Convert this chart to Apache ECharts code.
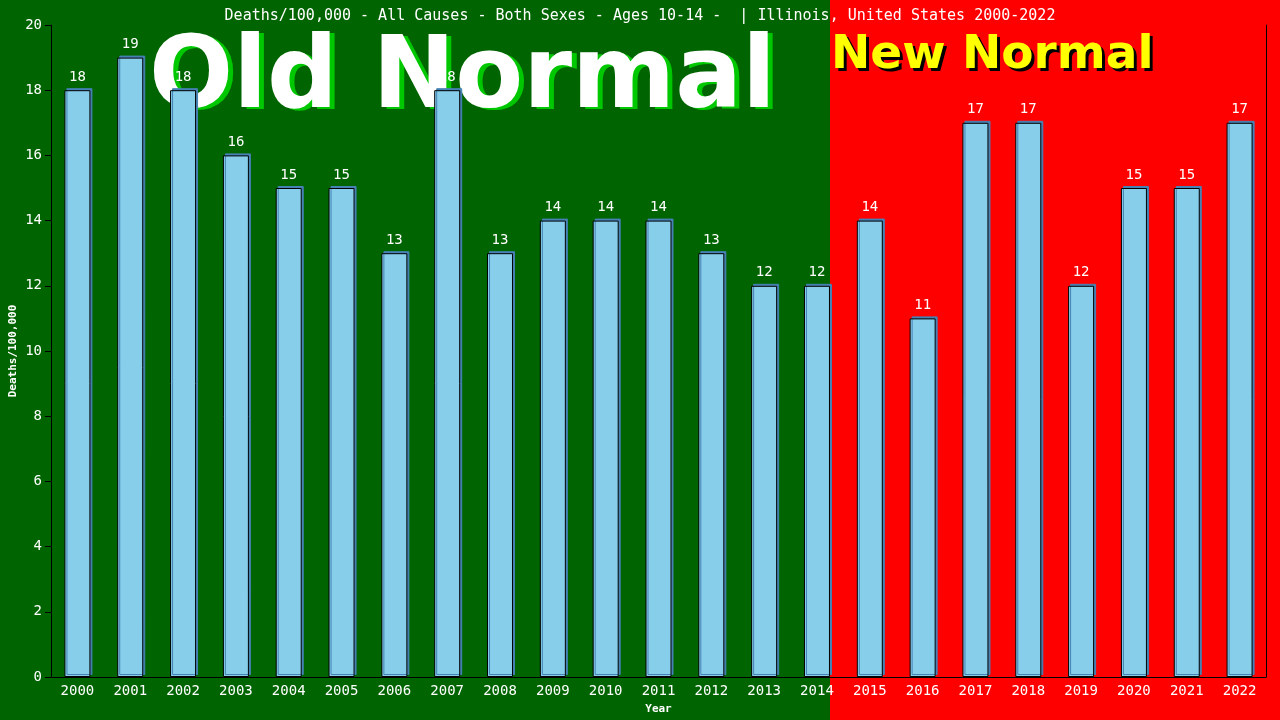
<!DOCTYPE html>
<html><head><meta charset="utf-8">
<script src="https://cdn.jsdelivr.net/npm/echarts@6/dist/echarts.min.js"></script>
<style>html,body{margin:0;padding:0;background:#f00}#c{width:1280px;height:720px}</style>
</head><body><div id="c"></div>
<script>
const years = ['2000','2001','2002','2003','2004','2005','2006','2007','2008','2009','2010','2011','2012','2013','2014','2015','2016','2017','2018','2019','2020','2021','2022'];
const deaths = [18,19,18,16,15,15,13,18,13,14,14,14,13,12,12,14,11,17,17,12,15,15,17];
const yTicks = {min:0, max:20, interval:2};
const titleText = 'Deaths/100,000 - All Causes - Both Sexes - Ages 10-14 -  | Illinois, United States 2000-2022';
const lastOldYear = '2014';

const mono = '"DejaVu Sans Mono", monospace';
const chart = echarts.init(document.getElementById('c'), null, {renderer:'canvas'});
const option = {
  animation: false,
  backgroundColor: '#ff0000',
  title: {text: titleText, left: 'center', top: 4, textStyle: {color:'#fff', fontFamily: mono, fontSize: 15, fontWeight: 'normal'}},
  grid: {left: 51, right: 14, top: 25, bottom: 43, containLabel: false, outerBoundsMode: 'none'},
  xAxis: {
    type: 'category', data: years, name: 'Year', nameLocation: 'middle', nameGap: 27, nameMoveOverlap: false,
    nameTextStyle: {color:'#fff', fontFamily: mono, fontSize: 11, fontWeight: 'bold'},
    axisLine: {lineStyle: {color:'#000', width:1}}, axisTick: {show:false},
    axisLabel: {color:'#fff', fontFamily: mono, fontSize: 14, margin: 7, interval: 0}
  },
  yAxis: [{
    type: 'value', min: yTicks.min, max: yTicks.max, interval: yTicks.interval,
    name: 'Deaths/100,000', nameLocation: 'middle', nameGap: 32, nameRotate: 90, nameMoveOverlap: false,
    nameTextStyle: {color:'#fff', fontFamily: mono, fontSize: 11, fontWeight: 'bold'},
    axisLine: {show:true, lineStyle: {color:'#000', width:1}},
    axisTick: {show:true, length: 6, lineStyle: {color:'#000'}},
    axisLabel: {color:'#fff', fontFamily: mono, fontSize: 14, margin: 9},
    splitLine: {show:false}
  },{
    type: 'value', min: yTicks.min, max: yTicks.max, interval: yTicks.interval, position: 'right',
    axisLine: {show:true, lineStyle: {color:'#000', width:1}}, axisTick:{show:false}, axisLabel:{show:false}, splitLine:{show:false}
  }],
  series: [{
    type: 'bar', data: deaths, barWidth: 26, z: 10,
    itemStyle: {color:'#87ceeb', borderColor:'#000', borderWidth:1, shadowColor:'#4682b4', shadowOffsetX:2, shadowOffsetY:-2, shadowBlur:0},
    label: {show:true, position:'top', distance: 6, color:'#fff', fontFamily: mono, fontSize: 14}
  }]
};
chart.setOption(option);
const edge = chart.convertToPixel({xAxisIndex:0}, lastOldYear) + 13;
chart.setOption({
  graphic: [
    {type:'rect', z: -10, silent:true, shape:{x:0, y:0, width: edge, height: 720}, style:{fill:'#006400'}},
    {type:'text', z: 0, silent:true, x: 154, y: 34, style:{text:'Old Normal', fill:'#00c800', font:'bold 99px "DejaVu Sans", sans-serif'}},
    {type:'text', z: 1, silent:true, x: 149, y: 32, style:{text:'Old Normal', fill:'#ffffff', font:'bold 99px "DejaVu Sans", sans-serif'}},
    {type:'text', z: 0, silent:true, x: edge + 4, y: 35, style:{text:'New Normal', fill:'#000000', font:'bold 47px "DejaVu Sans", sans-serif'}},
    {type:'text', z: 1, silent:true, x: edge + 1, y: 32, style:{text:'New Normal', fill:'#ffff00', font:'bold 47px "DejaVu Sans", sans-serif'}}
  ]
});
</script></body></html>
